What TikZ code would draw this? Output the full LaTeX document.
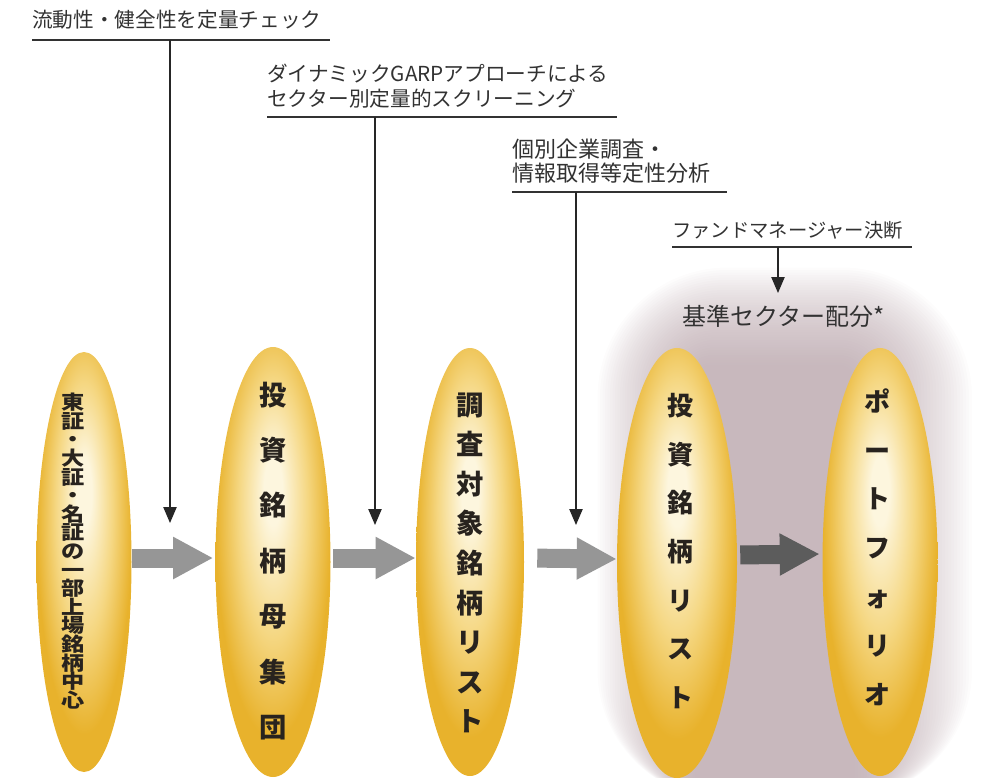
\documentclass[tikz,border=0pt]{standalone}
\usepackage{fontspec}
\setmainfont{Noto Sans CJK JP}
\usetikzlibrary{arrows.meta,shapes.geometric}
\definecolor{gold}{RGB}{232,178,44}
\definecolor{goldlight}{RGB}{245,215,130}
\definecolor{cream}{RGB}{253,246,222}
\definecolor{glowc}{RGB}{178,156,163}
\definecolor{lbl}{RGB}{50,50,50}
\definecolor{etc}{RGB}{40,35,30}
\definecolor{arrL}{RGB}{150,150,150}
\definecolor{arrD}{RGB}{92,92,92}
\pgfdeclareradialshading{goldglow}{\pgfpoint{0bp}{9bp}}{color(0bp)=(cream); color(4bp)=(cream); color(15bp)=(goldlight); color(25bp)=(gold); color(50bp)=(gold)}
\tikzset{
  ell/.style={ellipse, shading=goldglow, inner sep=0pt},
  etext/.style={inner sep=0pt, align=center, text=etc},
  lab/.style={anchor=west, inner sep=0pt, text=lbl, align=left},
  uline/.style={draw=lbl, line width=1.1pt},
  thinarrow/.style={draw=black!85, line width=1pt, -{Triangle[length=12pt,width=10pt]}},
  blk/.style={draw=arrL, line width=14.25pt, -{Triangle[length=30pt,width=29.5pt]}},
  blkdark/.style={blk, draw=arrD}
}
\begin{document}
\begin{tikzpicture}[x=0.75pt,y=-0.75pt]
\useasboundingbox (0,0) rectangle (990,778);
% glow behind the last two ellipses
\foreach \k in {0,...,39}{
  \pgfmathsetmacro\rc{12+2.2*\k}
  \fill[glowc, opacity=0.03, rounded corners=\rc pt] ({695-2.5*\k},{365-2.5*\k}) rectangle ({855+3*\k},800);
}
% ellipses
\node[ell, minimum width=71.25pt, minimum height=315pt] (e1) at (84,562) {};
\node[ell, minimum width=86.25pt, minimum height=322.5pt] (e2) at (273,562) {};
\node[ell, minimum width=81pt, minimum height=321pt] (e3) at (470,562) {};
\node[ell, minimum width=90pt, minimum height=322.5pt] (e4) at (677,563) {};
\node[ell, minimum width=86.25pt, minimum height=321pt] (e5) at (880,562) {};
% ellipse texts
\node[etext, font=\bfseries\fontsize{14.5}{13.95}\selectfont, xscale=1.2, transform shape] (t1) at (73,551)
  {東\\証\\・\\大\\証\\・\\名\\証\\の\\一\\部\\上\\場\\銘\\柄\\中\\心};
\node[etext, font=\bfseries\fontsize{20.5}{41.6}\selectfont] (t2) at (273,561)
  {投\\資\\銘\\柄\\母\\集\\団};
\node[etext, font=\bfseries\fontsize{20.5}{29.7}\selectfont] (t3) at (470,563)
  {調\\査\\対\\象\\銘\\柄\\リ\\ス\\ト};
\node[etext, font=\bfseries\fontsize{19.5}{36.5}\selectfont] (t4) at (680,551)
  {投\\資\\銘\\柄\\リ\\ス\\ト};
\node[etext, font=\bfseries\fontsize{19.5}{36.6}\selectfont] (t5) at (877,547)
  {ポ\\ー\\ト\\フ\\ォ\\リ\\オ};
% block arrows
\draw[blk, shorten >=1.5pt] ([yshift=3pt]e1.east) -- ([yshift=3pt]e2.west);
\draw[blk, shorten <=1.9pt] ([yshift=3pt]e2.east) -- ([yshift=3pt]e3.west);
\draw[blk, shorten <=9.75pt] ([yshift=3pt]e3.east) -- ([yshift=3pt]e4.west);
\draw[blkdark, shorten <=2.25pt, shorten >=1.9pt] ([yshift=6pt]e4.east) -- ([yshift=6pt]e5.west);
% labels
\node[lab, font=\fontsize{15.5}{18.75}\selectfont] (l1) at (32,20) {流動性・健全性を定量チェック};
\node[lab, font=\fontsize{15.5}{18.75}\selectfont] (l2) at (267,86) {ダイナミックGARPアプローチによる\\セクター別定量的スクリーニング};
\node[lab, font=\fontsize{16.5}{18}\selectfont] (l3) at (512,161) {個別企業調査・\\情報取得等定性分析};
\node[lab, font=\fontsize{14.5}{18}\selectfont] (l4) at (672,230) {ファンドマネージャー決断};
\node[lab, font=\fontsize{18}{20}\selectfont] (l5) at (682,316) {基準セクター配分*};
% underlines
\coordinate (u1a) at (32,40);  \coordinate (u1b) at (330,40);
\coordinate (u2a) at (267,117); \coordinate (u2b) at (617,117);
\coordinate (u3a) at (512,192); \coordinate (u3b) at (727,192);
\coordinate (u4a) at (672,247); \coordinate (u4b) at (912,247);
\draw[uline] (u1a) -- (u1b);
\draw[uline] (u2a) -- (u2b);
\draw[uline] (u3a) -- (u3b);
\draw[uline] (u4a) -- (u4b);
% vertical arrows
\coordinate (v1s) at (170,40);  \coordinate (v1e) at (170,523);
\coordinate (v2s) at (375,117); \coordinate (v2e) at (375,525);
\coordinate (v3s) at (576,192); \coordinate (v3e) at (576,525);
\coordinate (v4s) at (778,247); \coordinate (v4e) at (778,293);
\draw[thinarrow] (v1s) -- (v1e);
\draw[thinarrow] (v2s) -- (v2e);
\draw[thinarrow] (v3s) -- (v3e);
\draw[thinarrow] (v4s) -- (v4e);
\end{tikzpicture}
\end{document}
